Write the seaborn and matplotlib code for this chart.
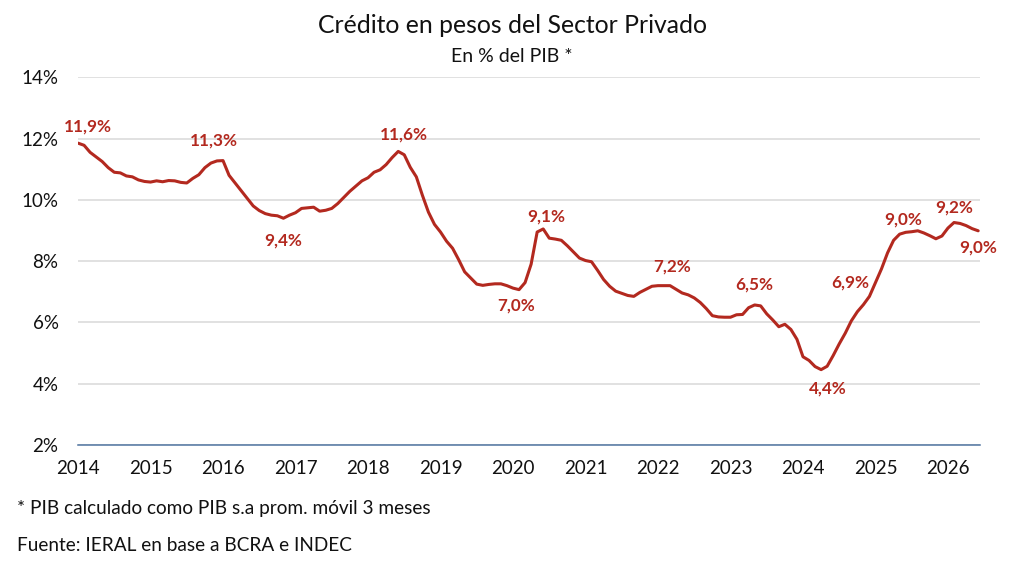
import seaborn as sns
import matplotlib.pyplot as plt
import numpy as np
import pandas as pd

# Crédito en pesos al sector privado, % del PIB, mensual desde ene-2014
anio_inicio = 2014
credito = [
    11.85, 11.78, 11.55, 11.40, 11.25, 11.05, 10.90, 10.88, 10.78, 10.75, 10.65, 10.60,  # 2014
    10.58, 10.62, 10.59, 10.63, 10.62, 10.57, 10.55, 10.70, 10.82, 11.05, 11.20, 11.27,  # 2015
    11.28, 10.80, 10.55, 10.30, 10.05, 9.80, 9.65, 9.55, 9.50, 9.48, 9.40, 9.50,  # 2016
    9.58, 9.72, 9.74, 9.76, 9.63, 9.66, 9.72, 9.88, 10.08, 10.28, 10.45, 10.62,  # 2017
    10.72, 10.90, 10.98, 11.15, 11.38, 11.58, 11.47, 11.06, 10.75, 10.15, 9.60, 9.20,  # 2018
    8.95, 8.65, 8.42, 8.05, 7.65, 7.45, 7.25, 7.21, 7.24, 7.26, 7.26, 7.20,  # 2019
    7.12, 7.07, 7.30, 7.90, 8.95, 9.05, 8.75, 8.72, 8.68, 8.50, 8.30, 8.10,  # 2020
    8.02, 7.98, 7.70, 7.40, 7.18, 7.02, 6.95, 6.88, 6.85, 6.98, 7.08, 7.18,  # 2021
    7.20, 7.20, 7.20, 7.08, 6.96, 6.90, 6.80, 6.65, 6.45, 6.22, 6.18, 6.17,  # 2022
    6.17, 6.25, 6.26, 6.48, 6.57, 6.54, 6.28, 6.08, 5.86, 5.94, 5.77, 5.45,  # 2023
    4.88, 4.76, 4.56, 4.46, 4.57, 4.92, 5.30, 5.65, 6.05, 6.35, 6.58, 6.85,  # 2024
    7.30, 7.75, 8.27, 8.68, 8.88, 8.94, 8.96, 8.99, 8.92, 8.83, 8.73, 8.82,  # 2025
    9.08, 9.26, 9.23, 9.16, 9.06, 8.99,  # 2026
]

# etiquetas: (mes desde ene-2014, texto, desplazamiento en puntos)
etiquetas = [
    (0, "11,9%", (7, 12)),
    (23, "11,3%", (-2, 15)),
    (34, "9,4%", (0, -16)),
    (53, "11,6%", (4, 12)),
    (77, "9,1%", (2, 9)),
    (73, "7,0%", (-2, -11.5)),
    (97, "7,2%", (6, 14)),
    (112, "6,5%", (0, 15)),
    (123, "4,4%", (5, -13.5)),
    (129, "6,9%", (-5, 21)),
    (137, "9,0%", (-2, 9)),
    (145, "9,2%", (0, 11)),
    (149, "9,0%", (0, -12)),
]

anios = list(range(2014, 2027))
yticks = [2, 4, 6, 8, 10, 12, 14]

rojo = "#b3291f"

df = pd.DataFrame({
    "fecha": anio_inicio + np.arange(len(credito)) / 12,
    "credito": credito,
})

sns.set_theme(style="white")
plt.rcParams["font.family"] = ["Lato", "DejaVu Sans"]

fig = plt.figure(figsize=(10.24, 5.68), dpi=100)
ax = fig.add_axes([0.0762, 0.2165, 0.8808, 0.6475])

sns.lineplot(data=df, x="fecha", y="credito", ax=ax, color=rojo, linewidth=2.2)

for idx, texto, (dx, dy) in etiquetas:
    ax.annotate(texto, (df["fecha"][idx], df["credito"][idx]), xytext=(dx, dy),
                textcoords="offset points", ha="center", va="center",
                fontsize=12.3, fontweight="bold", color=rojo)

ax.set_xlim(2014, 2014 + 902 / 72.5)
ax.set_ylim(2, 14)
ax.set_yticks(yticks)
ax.set_yticklabels([f"{v}%" for v in yticks], fontsize=13.5)
ax.set_xticks(anios)
ax.set_xticklabels([str(a) for a in anios], fontsize=13.5)
ax.tick_params(axis="both", length=0, colors="#111111")
ax.tick_params(axis="y", pad=14)
ax.tick_params(axis="x", pad=11)
ax.grid(axis="y", color="#d9d9d9", linewidth=1.1)
ax.set_axisbelow(True)
for lado in ["top", "right", "left"]:
    ax.spines[lado].set_visible(False)
ax.spines["bottom"].set_color("#4f74a0")
ax.spines["bottom"].set_linewidth(1.1)
ax.set_xlabel("")
ax.set_ylabel("")

fig.text(0.5, 0.955, "Crédito en pesos del Sector Privado", ha="center", va="center",
         fontsize=17.8, color="#111111")
fig.text(0.5, 0.901, "En % del PIB *", ha="center", va="center",
         fontsize=14, color="#111111")
fig.text(0.017, 0.104, "* PIB calculado como PIB s.a prom. móvil 3 meses", ha="left",
         va="center", fontsize=13.7, color="#111111")
fig.text(0.017, 0.039, "Fuente: IERAL en base a BCRA e INDEC", ha="left",
         va="center", fontsize=13.7, color="#111111")

plt.savefig("out.png", dpi=100)
plt.close()
